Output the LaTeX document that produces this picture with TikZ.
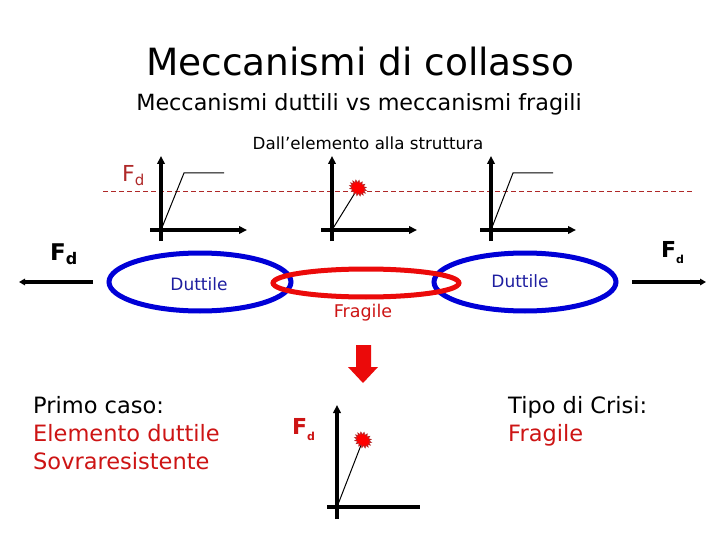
\documentclass[tikz,border=0pt]{standalone}
\usepackage{fontspec}
\setmainfont{DejaVu Sans}
\usetikzlibrary{arrows.meta}
\definecolor{blu}{RGB}{0,0,215}
\definecolor{blutext}{RGB}{30,30,160}
\definecolor{rosso}{RGB}{235,10,10}
\definecolor{rossotext}{RGB}{205,20,20}
\definecolor{rossoscuro}{RGB}{175,40,40}
\tikzset{
  axis/.style={line width=3.1pt,-{Triangle[length=8pt,width=7.5pt]}},
  axisplain/.style={line width=3.1pt},
  curve/.style={line width=1pt},
  lbl/.style={inner sep=0pt,anchor=center},
  fdlbl/.style={inner sep=0pt,anchor=west},
  txt/.style={inner sep=0pt,anchor=base west,font=\fontsize{22.5}{27}\selectfont},
  ductile/.style={draw=blu,line width=5pt},
  brittle/.style={draw=rosso,line width=5pt},
  force/.style={line width=3.1pt,-{Triangle[length=6pt,width=6.5pt]}},
  blobstyle/.style={fill=red,draw=rossoscuro,line width=0.5pt},
}
\newcommand{\fdsub}[3]{{\fontsize{#1}{#1}\selectfont F}\raisebox{-#3pt}{\fontsize{#2}{#2}\selectfont d}}
\newcommand{\myblob}[1]{%
  \draw[blobstyle, shift={(#1)}, rotate=-35]
    plot[samples=33, domain=0:32, variable=\t]
    ({(7.8+1.3*cos(180*\t))*cos(\t*360/32)}, {(6.3+1.3*cos(180*\t))*sin(\t*360/32)}) -- cycle;}
\begin{document}
\begin{tikzpicture}[x=1pt,y=-1pt]
\useasboundingbox[fill=white] (0,0) rectangle (720,540);

% titles
\node[lbl,font=\fontsize{37.5}{40}\selectfont] (title) at (360,62) {Meccanismi di collasso};
\node[lbl,font=\fontsize{22.3}{26}\selectfont] (subtitle) at (359,104) {Meccanismi duttili vs meccanismi fragili};
\node[lbl,font=\fontsize{16.7}{19}\selectfont] (dall) at (368,143) {Dall’elemento alla struttura};

% dashed Fd line
\coordinate (dl) at (103,191);
\coordinate (dr) at (693,191);
\draw[rossoscuro,line width=0.9pt,dash pattern=on 5pt off 3pt] (dl) -- (dr);
\node[fdlbl,text=rossoscuro] (fdtop) at (122,176) {\fdsub{22}{15}{4}};

% graph 1
\coordinate (g1o) at (161,230);
\coordinate (g1t) at (161,156);
\coordinate (g1b) at (161,241);
\coordinate (g1l) at (150,230);
\coordinate (g1r) at (247,230);
\coordinate (g1y) at (184,173);
\coordinate (g1e) at (224,173);
\draw[axis] (g1b) -- (g1t);
\draw[axis] (g1l) -- (g1r);
\draw[curve] (g1o) -- (g1y) -- (g1e);

% graph 2
\coordinate (g2o) at (332,230);
\coordinate (g2t) at (332,156);
\coordinate (g2b) at (332,241);
\coordinate (g2l) at (321,230);
\coordinate (g2r) at (417,230);
\coordinate (g2k) at (358,188);
\draw[axis] (g2b) -- (g2t);
\draw[axis] (g2l) -- (g2r);
\draw[curve] (g2o) -- (g2k);
\myblob{g2k}

% graph 3
\coordinate (g3o) at (491,230);
\coordinate (g3t) at (491,156);
\coordinate (g3b) at (491,241);
\coordinate (g3l) at (480,230);
\coordinate (g3r) at (576,230);
\coordinate (g3y) at (513,173);
\coordinate (g3e) at (553,173);
\draw[axis] (g3b) -- (g3t);
\draw[axis] (g3l) -- (g3r);
\draw[curve] (g3o) -- (g3y) -- (g3e);

% chain of elements
\draw[ductile] (200,282) ellipse[x radius=91,y radius=29];
\draw[ductile] (525,282) ellipse[x radius=91,y radius=29];
\draw[brittle] (366,283) ellipse[x radius=93,y radius=14];
\node[lbl,text=blutext,font=\fontsize{17}{20}\selectfont] (dutl) at (199,284) {Duttile};
\node[lbl,text=blutext,font=\fontsize{17}{20}\selectfont] (dutr) at (520,281) {Duttile};
\node[lbl,text=rossotext,font=\fontsize{17.5}{20}\selectfont] (frag) at (363,313) {Fragile};

% forces
\coordinate (fl1) at (93,282);
\coordinate (fl2) at (19,282);
\coordinate (fr1) at (632,282);
\coordinate (fr2) at (706,282);
\draw[force] (fl1) -- (fl2);
\draw[force] (fr1) -- (fr2);
\node[fdlbl,font=\bfseries] (fdl) at (50,254) {\fdsub{23}{16}{4}};
\node[fdlbl,font=\bfseries] (fdr) at (661,253) {\fdsub{22}{11}{6}};

% red block arrow
\fill[rosso] (356,345) -- (371,345) -- (371,367) -- (378,367) -- (363,383) -- (348,367) -- (356,367) -- cycle;

% bottom graph
\coordinate (g4o) at (337,507);
\coordinate (g4t) at (337,405);
\coordinate (g4b) at (337,519);
\coordinate (g4l) at (327,507);
\coordinate (g4r) at (420,507);
\coordinate (g4k) at (363,440);
\draw[axis] (g4b) -- (g4t);
\draw[axisplain] (g4l) -- (g4r);
\draw[curve] (g4o) -- (g4k);
\myblob{g4k}
\node[fdlbl,text=rossotext,font=\bfseries] (fdb) at (292,430) {\fdsub{22}{11}{6}};

% text blocks
\node[txt] (primo) at (33,413) {Primo caso:};
\node[txt,text=rossotext] (elem) at (33,441) {Elemento duttile};
\node[txt,text=rossotext] (sovra) at (33,469) {Sovraresistente};
\node[txt] (tipo) at (508,413) {Tipo di Crisi:};
\node[txt,text=rossotext] (fragb) at (508,441) {Fragile};
\end{tikzpicture}
\end{document}
